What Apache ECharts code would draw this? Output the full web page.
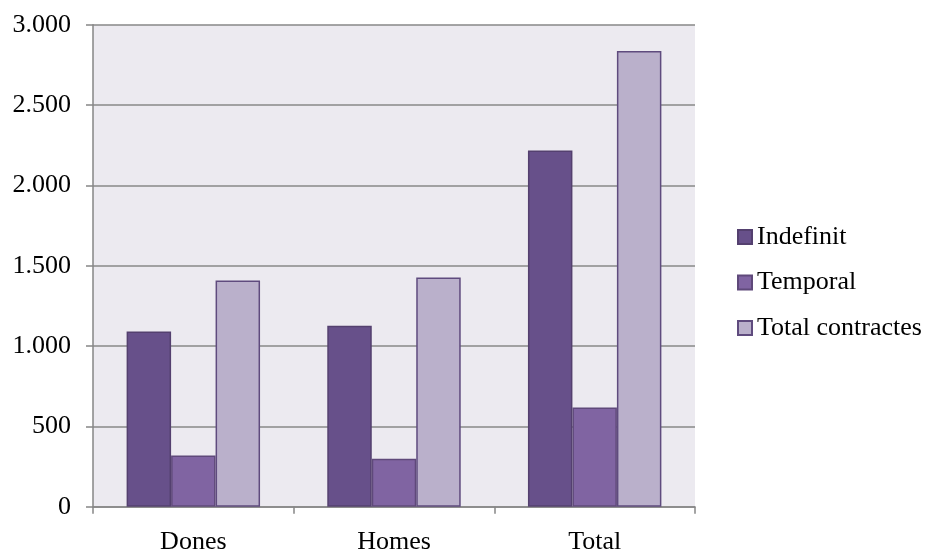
<!DOCTYPE html>
<html>
<head>
<meta charset="utf-8">
<script src="https://cdn.jsdelivr.net/npm/echarts@6/dist/echarts.min.js"></script>
<style>
html,body{margin:0;padding:0;background:#fff;}
#chart{width:930px;height:549px;}
</style>
</head>
<body>
<div id="chart"></div>
<script>
const categories = ['Dones', 'Homes', 'Total'];
const seriesNames = ['Indefinit', 'Temporal', 'Total contractes'];
const indefinit = [1090, 1127, 2217];
const temporal = [318, 299, 617];
const totalContractes = [1408, 1427, 2836];
const yTicks = [0, 500, 1000, 1500, 2000, 2500, 3000];

const font = '"Liberation Serif", "Times New Roman", serif';
function fmt(v) {
  return String(v).replace(/\B(?=(\d{3})+(?!\d))/g, '.');
}
const chart = echarts.init(document.getElementById('chart'));
const fills = ['#67508A', '#8064A2', '#BAB0CB'];
const borders = ['#54406F', '#5F497A', '#5F4B7E'];
const data = [indefinit, temporal, totalContractes];
chart.setOption({
  animation: false,
  backgroundColor: '#ffffff',
  grid: {
    left: 93, right: 235, top: 24.7, bottom: 42.3,
    containLabel: false,
    outerBoundsMode: 'none',
    show: true, backgroundColor: '#ECEAF0', borderWidth: 0
  },
  legend: {
    orient: 'vertical',
    left: 732, top: 219,
    padding: 5,
    itemWidth: 14, itemHeight: 14,
    itemGap: 19.5,
    icon: 'rect',
    textStyle: { fontFamily: font, fontSize: 26, color: '#000', lineHeight: 26 },
    data: seriesNames
  },
  xAxis: {
    type: 'category',
    data: categories,
    axisLine: { lineStyle: { color: '#868686', width: 1.5 } },
    axisTick: { show: true, length: 7, lineStyle: { color: '#868686', width: 1.5 } },
    axisLabel: { fontFamily: font, fontSize: 26, color: '#000', margin: 22 }
  },
  yAxis: {
    type: 'value',
    min: 0, max: yTicks[yTicks.length - 1], interval: 500,
    axisLine: { show: true, lineStyle: { color: '#868686', width: 1.5 } },
    axisTick: { show: true, length: 7, lineStyle: { color: '#868686', width: 1.5 } },
    splitLine: { lineStyle: { color: '#888888', width: 1.5 } },
    axisLabel: { fontFamily: font, fontSize: 26, color: '#000', margin: 22, formatter: fmt }
  },
  series: seriesNames.map((n, i) => ({
    name: n,
    type: 'bar',
    data: data[i],
    barGap: '0%',
    barCategoryGap: '33.5%',
    itemStyle: { color: fills[i], borderColor: borders[i], borderWidth: 1.5 }
  }))
});
</script>
</body>
</html>
